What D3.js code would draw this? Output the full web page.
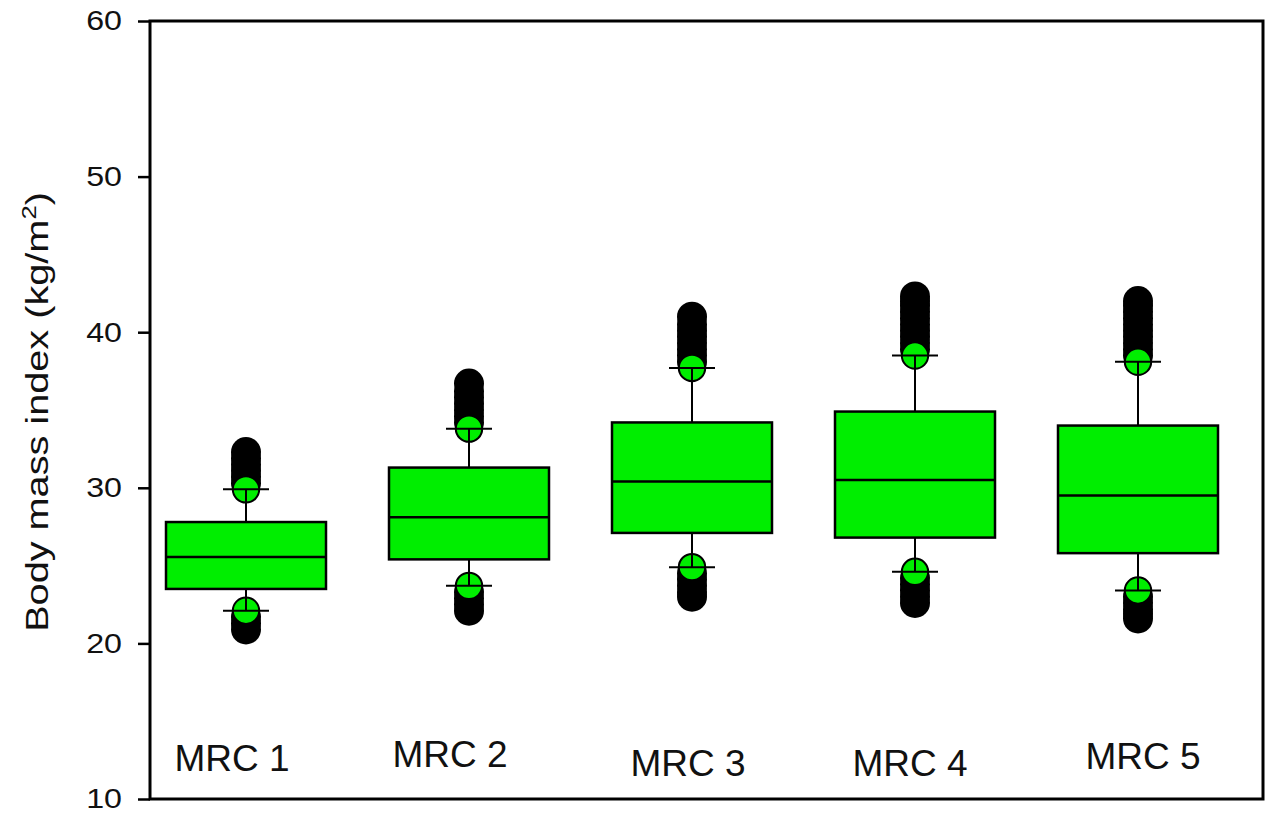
<!DOCTYPE html>
<html>
<head>
<meta charset="utf-8">
<script src="https://cdn.jsdelivr.net/npm/d3@7"></script>
<style>
  html, body { margin: 0; padding: 0; background: #ffffff; }
  svg { display: block; }
  text { font-family: "Liberation Sans", Arial, sans-serif; fill: #111; }
</style>
</head>
<body>
<svg id="chart" width="1267" height="814"></svg>
<script>
// Body mass index by MRC grade (box plots, percentile markers and outliers)
const categories = ["MRC 1", "MRC 2", "MRC 3", "MRC 4", "MRC 5"];
const q1 = [23.5, 25.4, 27.1, 26.8, 25.8];
const median = [25.55, 28.1, 30.4, 30.5, 29.5];
const q3 = [27.8, 31.3, 34.2, 34.9, 34.0];
const whiskerLow = [22.1, 23.7, 24.9, 24.6, 23.4];
const whiskerHigh = [29.9, 33.8, 37.7, 38.5, 38.1];
const outliersHigh = [
  [30.3, 30.7, 31.1, 31.5, 31.9, 32.3],
  [34.2, 34.6, 35.0, 35.4, 35.8, 36.2, 36.7],
  [38.1, 38.5, 38.9, 39.3, 39.7, 40.1, 40.5, 41.0],
  [38.9, 39.3, 39.7, 40.1, 40.5, 40.9, 41.3, 41.7, 42.0, 42.3],
  [38.5, 38.9, 39.3, 39.7, 40.1, 40.5, 40.9, 41.3, 41.7, 42.0]
];
const outliersLow = [
  [21.7, 21.3, 20.9],
  [23.3, 22.9, 22.5, 22.1],
  [24.5, 24.1, 23.7, 23.3, 23.0],
  [24.2, 23.8, 23.4, 23.0, 22.6],
  [23.0, 22.6, 22.2, 21.9, 21.6]
];
const yTicks = [10, 20, 30, 40, 50, 60];
const yTitle = "Body mass index (kg/m";
const yTitleSup = "2";

// small per-label offsets of the category names (dx, dy in px)
const labelNudge = [[-14, 0], [-19, -4], [-4, 5], [-5, 5], [5, -2]];

const svg = d3.select("#chart");
const plot = { left: 150, right: 1263, top: 21, bottom: 799 };
const green = "#00ee00";

const y = d3.scaleLinear().domain([10, 60]).range([plot.bottom, plot.top]);
const x = d3.scalePoint().domain(categories).range([246, 1138]);
const boxW = 160, capHalf = 23, dotR = 15, markR = 13.2;

const groups = categories.map((c, i) => ({
  cat: c, q1: q1[i], med: median[i], q3: q3[i],
  lo: whiskerLow[i], hi: whiskerHigh[i],
  out: outliersHigh[i].concat(outliersLow[i]), nudge: labelNudge[i]
}));

// frame
svg.append("rect")
  .attr("x", plot.left).attr("y", plot.top)
  .attr("width", plot.right - plot.left).attr("height", plot.bottom - plot.top)
  .attr("fill", "none").attr("stroke", "#000").attr("stroke-width", 3);

// y axis
const tickScaleX = 1.15;
const yAxis = svg.append("g")
  .attr("transform", `translate(${plot.left},0)`)
  .call(d3.axisLeft(y).tickValues(yTicks).tickSize(12).tickPadding(16).tickFormat(d3.format("d")));
yAxis.select(".domain").remove();
yAxis.selectAll(".tick line").attr("stroke", "#000").attr("stroke-width", 2.5);
yAxis.selectAll(".tick text")
  .attr("font-size", 28)
  .attr("font-family", "Liberation Sans, Arial, sans-serif")
  .attr("fill", "#111")
  .attr("x", -28 / tickScaleX)
  .attr("transform", `scale(${tickScaleX},1)`);

// y title
const title = svg.append("text")
  .attr("transform", "translate(48,412) rotate(-90) scale(1.28,1)")
  .attr("text-anchor", "middle")
  .attr("font-size", 31);
title.append("tspan").text(yTitle);
title.append("tspan").text(yTitleSup).attr("font-size", 20).attr("dy", -12);
title.append("tspan").text(")").attr("dy", 12);

const g = svg.append("g");
const box = g.selectAll("g.box").data(groups).join("g").attr("class", "box");

// outliers
box.each(function(d) {
  d3.select(this).selectAll("circle.out").data(d.out).join("circle")
    .attr("class", "out")
    .attr("cx", x(d.cat)).attr("cy", v => y(v)).attr("r", dotR)
    .attr("fill", "#000");
});

// percentile markers at whisker ends
box.each(function(d) {
  d3.select(this).selectAll("circle.mark").data([d.hi, d.lo]).join("circle")
    .attr("class", "mark")
    .attr("cx", x(d.cat)).attr("cy", v => y(v)).attr("r", markR)
    .attr("fill", green).attr("stroke", "#000").attr("stroke-width", 2);
});

// whiskers
box.append("line")
  .attr("x1", d => x(d.cat)).attr("x2", d => x(d.cat))
  .attr("y1", d => y(d.hi)).attr("y2", d => y(d.q3))
  .attr("stroke", "#000").attr("stroke-width", 2);
box.append("line")
  .attr("x1", d => x(d.cat)).attr("x2", d => x(d.cat))
  .attr("y1", d => y(d.q1)).attr("y2", d => y(d.lo))
  .attr("stroke", "#000").attr("stroke-width", 2);
box.each(function(d) {
  d3.select(this).selectAll("line.cap").data([d.hi, d.lo]).join("line")
    .attr("class", "cap")
    .attr("x1", x(d.cat) - capHalf).attr("x2", x(d.cat) + capHalf)
    .attr("y1", v => y(v)).attr("y2", v => y(v))
    .attr("stroke", "#000").attr("stroke-width", 2);
});

// boxes and medians
box.append("rect")
  .attr("x", d => x(d.cat) - boxW / 2).attr("width", boxW)
  .attr("y", d => y(d.q3)).attr("height", d => y(d.q1) - y(d.q3))
  .attr("fill", green).attr("stroke", "#000").attr("stroke-width", 2.5);
box.append("line")
  .attr("x1", d => x(d.cat) - boxW / 2).attr("x2", d => x(d.cat) + boxW / 2)
  .attr("y1", d => y(d.med)).attr("y2", d => y(d.med))
  .attr("stroke", "#000").attr("stroke-width", 2.5);

// category names inside the plot, near the bottom
svg.selectAll("text.cat").data(groups).join("text")
  .attr("class", "cat")
  .attr("x", d => x(d.cat) + d.nudge[0])
  .attr("y", d => 771 + d.nudge[1])
  .attr("text-anchor", "middle")
  .attr("font-size", 37)
  .text(d => d.cat);
</script>
</body>
</html>
